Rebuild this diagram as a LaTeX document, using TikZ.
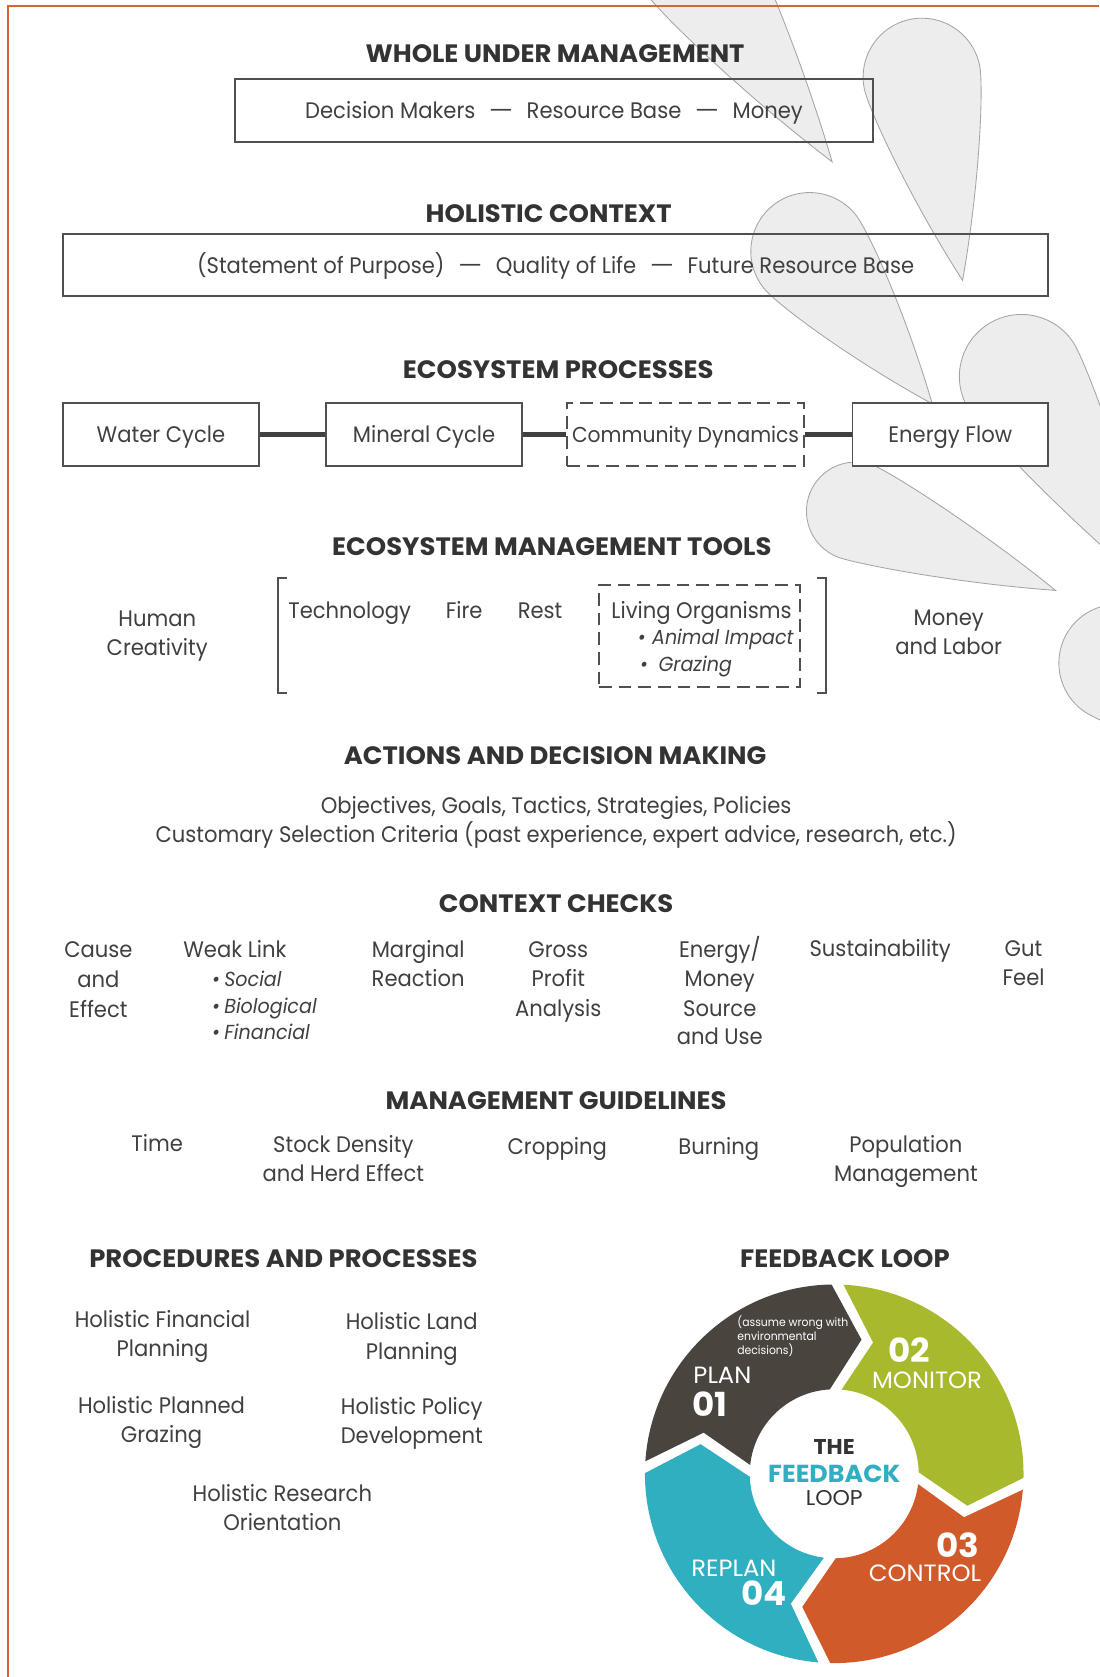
\documentclass[tikz,border=0pt]{standalone}
\usepackage{fontspec}
\setmainfont[FakeStretch=0.94]{Poppins}
\newfontfamily\hdfont[FakeStretch=1.03]{Poppins}
\definecolor{txtc}{HTML}{404040}
\definecolor{hdc}{HTML}{333333}
\definecolor{lnc}{HTML}{505050}
\definecolor{brdc}{HTML}{D0673A}
\definecolor{petfill}{HTML}{EDEDED}
\definecolor{petline}{HTML}{A5A5A5}
\definecolor{planc}{HTML}{4A443F}
\definecolor{monc}{HTML}{A9B92E}
\definecolor{ctrlc}{HTML}{D15A2B}
\definecolor{replc}{HTML}{30AFC0}
\tikzset{
  txt/.style={font=\fontsize{10.5}{12}\selectfont, text=txtc, inner sep=0pt, anchor=base},
  txtl/.style={txt, anchor=base west},
  itl/.style={font=\fontsize{9.5}{12}\selectfont\itshape, text=txtc, inner sep=0pt, anchor=base west},
  hd/.style={font=\hdfont\fontsize{11.75}{13}\selectfont\bfseries, text=hdc, inner sep=0pt, anchor=base},
  boxn/.style={draw=lnc, line width=0.85pt, inner sep=0pt, text height=7.4pt, text depth=0pt,
    font=\fontsize{10.5}{12}\selectfont, text=txtc},
  procbox/.style={boxn, fill=white, minimum width=91.5pt, minimum height=29.5pt},
  dashbox/.style={procbox, dash pattern=on 6pt off 3.2pt},
  conn/.style={draw=black!75, line width=2.2pt},
  brk/.style={draw=lnc, line width=0.95pt},
  petal/.style={fill=petfill, draw=petline, line width=0.4pt},
  fbw/.style={text=white, inner sep=0pt, anchor=base west},
  fbsmall/.style={fbw, font=\fontsize{5.4}{6}\selectfont},
  fbword/.style={fbw, font=\hdfont\fontsize{11}{12}\selectfont},
  fbnum/.style={fbw, font=\hdfont\fontsize{15.5}{16}\selectfont\bfseries},
}
\newcommand\petal[5]{%
  \begin{scope}[shift={(#1,#2)}, rotate=#3]
    \path[petal] (#4,0) .. controls ({0.55*#4},{0.62*#5}) and ({0.35*#5},{#5}) .. (0,#5)
      arc[start angle=90, end angle=270, radius=#5]
      .. controls ({0.35*#5},{-#5}) and ({0.55*#4},{-0.62*#5}) .. (#4,0) -- cycle;
  \end{scope}}
\newcommand\fbseg[3]{%
  \fill[#3] ({#1-1.8}:177) arc[start angle={#1-1.8}, end angle={#2+1.8}, radius=177]
    -- ({#2-13+2.5}:128) -- ({#2+4}:79)
    arc[start angle={#2+4}, end angle={#1-4}, radius=79]
    -- ({#1-13-2.5}:128) -- cycle;}
\begin{document}
\begin{tikzpicture}[x=0.5pt, y=-0.5pt]
\useasboundingbox (0,0) rectangle (1028,1568);
\fill[white] (0,0) rectangle (1028,1568);
% petals
\petal{650}{-35}{-55.5}{226}{54}
\petal{862}{72}{-78.7}{194}{55}
\petal{757}{235}{-51.2}{183}{55}
\petal{955}{352}{-58}{240}{58}
\petal{800}{478}{-21.6}{201}{46}
\petal{1045}{620}{-35}{200}{55}
% border
\draw[brdc, line width=1.1pt] (7.5,1568) -- (7.5,5.5) -- (1028,5.5);

% whole under management
\node[hd] (h1) at (519,58) {WHOLE UNDER MANAGEMENT};
\node[boxn, minimum width=298pt, minimum height=29.5pt] (wum) at (518,103.5)
  {Decision Makers\hspace{0.6em}\scalebox{1.3}[1]{—}\hspace{0.6em}Resource Base\hspace{0.6em}\scalebox{1.3}[1]{—}\hspace{0.6em}Money};
% holistic context
\node[hd] (h2) at (513,208) {HOLISTIC CONTEXT};
\node[boxn, minimum width=460.5pt, minimum height=29pt] (hc) at (519.5,248)
  {(Statement of Purpose)\hspace{0.6em}\scalebox{1.3}[1]{—}\hspace{0.6em}Quality of Life\hspace{0.6em}\scalebox{1.3}[1]{—}\hspace{0.6em}Future Resource Base};
% ecosystem processes
\node[hd] (h3) at (522,354) {ECOSYSTEM PROCESSES};
\node[procbox] (wc) at (150.5,406.5) {Water Cycle};
\node[procbox] (mc) at (396.5,406.5) {Mineral Cycle};
\node[dashbox, minimum width=111pt, font=\fontsize{10.1}{12}\selectfont] (cd) at (641,406.5) {Community Dynamics};
\node[procbox] (ef) at (888.5,406.5) {Energy Flow};
\draw[conn] (wc.east) -- (mc.west);
\draw[conn] (mc.east) -- (cd.west);
\draw[conn] (cd.east) -- (ef.west);

% management tools
\node[hd] (h4) at (516,519) {ECOSYSTEM MANAGEMENT TOOLS};
\node[txt] (hum1) at (147,586) {Human};
\node[txt] (hum2) at (147,613) {Creativity};
\coordinate (lbt) at (268,540); \coordinate (lbb) at (268,648);
\draw[brk] (lbt) -- ++(-8,0) -- ++(0,108) -- (lbb);
\coordinate (rbt) at (764,540); \coordinate (rbb) at (764,648);
\draw[brk] (rbt) -- ++(8,0) -- ++(0,108) -- (rbb);
\node[txt] (tech) at (327,578) {Technology};
\node[txt] (fire) at (434,578) {Fire};
\node[txt] (rest) at (505,578) {Rest};
\node[draw=lnc, line width=0.85pt, dash pattern=on 6pt off 3.2pt, minimum width=94pt, minimum height=47.5pt, inner sep=0pt] (lob) at (654,594.5) {};
\node[txt] (lo) at (656,578) {Living Organisms};
\node[itl] (ai) at (596,603) {\textbullet\hspace{3pt}Animal Impact};
\node[itl] (gr) at (598,628) {\textbullet\hspace{5pt}Grazing};
\node[txt] (ml1) at (887,585) {Money};
\node[txt] (ml2) at (887,612) {and Labor};

% actions
\node[hd] (h5) at (519,715) {ACTIONS AND DECISION MAKING};
\node[txt] (act1) at (520,761) {Objectives, Goals, Tactics, Strategies, Policies};
\node[txt] (act2) at (520,788) {Customary Selection Criteria (past experience, expert advice, research, etc.)};

% context checks
\node[hd] (h6) at (520,853) {CONTEXT CHECKS};
\node[txt] (ce1) at (92,895) {Cause};
\node[txt] (ce2) at (92,923) {and};
\node[txt] (ce3) at (92,951) {Effect};
\node[txtl] (wl) at (171,895) {Weak Link};
\node[itl] (wl1) at (198,922) {\textbullet\hspace{2pt}Social};
\node[itl] (wl2) at (198,948) {\textbullet\hspace{2pt}Biological};
\node[itl] (wl3) at (198,972) {\textbullet\hspace{2pt}Financial};
\node[txt] (mr1) at (391,895) {Marginal};
\node[txt] (mr2) at (391,922) {Reaction};
\node[txt] (gp1) at (522,895) {Gross};
\node[txt] (gp2) at (522,922) {Profit};
\node[txt] (gp3) at (522,950) {Analysis};
\node[txt] (em1) at (673,895) {Energy/};
\node[txt] (em2) at (673,922) {Money};
\node[txt] (em3) at (673,950) {Source};
\node[txt] (em4) at (673,977) {and Use};
\node[txt] (sus) at (823,894) {Sustainability};
\node[txt] (gf1) at (957,894) {Gut};
\node[txt] (gf2) at (957,921) {Feel};

% management guidelines
\node[hd] (h7) at (520,1037) {MANAGEMENT GUIDELINES};
\node[txt] (tim) at (147,1077) {Time};
\node[txt] (sd1) at (321,1078) {Stock Density};
\node[txt] (sd2) at (321,1105) {and Herd Effect};
\node[txt] (crop) at (521,1079) {Cropping};
\node[txt] (burn) at (672,1079) {Burning};
\node[txt] (pm1) at (847,1078) {Population};
\node[txt] (pm2) at (847,1105) {Management};

% procedures
\node[hd] (h8) at (265,1185) {PROCEDURES AND PROCESSES};
\node[txt] (hf1) at (152,1241) {Holistic Financial};
\node[txt] (hf2) at (152,1268) {Planning};
\node[txt] (hl1) at (385,1243) {Holistic Land};
\node[txt] (hl2) at (385,1271) {Planning};
\node[txt] (hp1) at (151,1322) {Holistic Planned};
\node[txt] (hp2) at (151,1349) {Grazing};
\node[txt] (hpd1) at (385,1323) {Holistic Policy};
\node[txt] (hpd2) at (385,1350) {Development};
\node[txt] (hr1) at (264,1404) {Holistic Research};
\node[txt] (hr2) at (264,1431) {Orientation};

% feedback loop
\node[hd] (h9) at (790,1185) {FEEDBACK LOOP};
\begin{scope}[shift={(780,1378)}, yscale=-1]
  \fbseg{178}{89}{planc}
  \fbseg{89}{-3}{monc}
  \fbseg{-3}{-93}{ctrlc}
  \fbseg{267}{178}{replc}
\end{scope}
\node[fbsmall] (as1) at (689,1240) {(assume wrong with};
\node[fbsmall] (as2) at (689,1253) {environmental};
\node[fbsmall] (as3) at (689,1266) {decisions)};
\node[fbword] (plan) at (648,1294) {PLAN};
\node[fbnum] (n01) at (647,1324) {01};
\node[fbnum] (n02) at (830,1274) {02};
\node[fbword] (mon) at (815,1298) {MONITOR};
\node[fbnum] (n03) at (875,1456) {03};
\node[fbword] (ctl) at (812,1479) {CONTROL};
\node[fbword] (rep) at (646,1474) {REPLAN};
\node[fbnum] (n04) at (693,1501) {04};
\node[font=\hdfont\fontsize{10}{11}\selectfont\bfseries, text=hdc, inner sep=0pt, anchor=base] (the) at (780,1360) {THE};
\node[font=\hdfont\fontsize{11.5}{12}\selectfont\bfseries, text=replc, inner sep=0pt, anchor=base] (fbk) at (780,1386) {FEEDBACK};
\node[font=\hdfont\fontsize{10}{11}\selectfont, text=hdc, inner sep=0pt, anchor=base] (loop) at (780,1408) {LOOP};
\end{tikzpicture}
\end{document}
